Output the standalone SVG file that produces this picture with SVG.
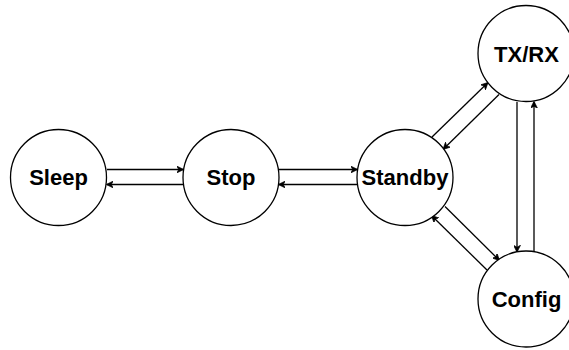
<svg xmlns="http://www.w3.org/2000/svg" width="569" height="350" viewBox="0 0 569 350">
<style>
.n{fill:#fff;stroke:#000;stroke-width:1.3}
.t{font-family:"Liberation Sans",Arial,sans-serif;font-weight:bold;font-size:22px;text-anchor:middle;fill:#000}
.e{stroke:#000;stroke-width:1.3;fill:none;marker-end:url(#a)}
</style>
<defs>
<marker id="a" viewBox="0 0 10 10" refX="9" refY="5" markerWidth="7" markerHeight="7" markerUnits="userSpaceOnUse" orient="auto">
<path d="M0,0 L10,5 L0,10 L3,5 z" fill="#000" stroke="#000" stroke-width="1"/>
</marker>
</defs>
<rect width="569" height="350" fill="#fff"/>
<g id="connectors">
<line class="e" x1="107" y1="169.5" x2="183" y2="169.5"/>
<line class="e" x1="183" y1="184.5" x2="107" y2="184.5"/>
<line class="e" x1="279" y1="169.5" x2="357" y2="169.5"/>
<line class="e" x1="357" y1="184.5" x2="279" y2="184.5"/>
<line class="e" x1="432" y1="137" x2="487.5" y2="83"/>
<line class="e" x1="499" y1="94.5" x2="443.5" y2="149"/>
<line class="e" x1="445" y1="206.5" x2="499" y2="260"/>
<line class="e" x1="487" y1="270" x2="432" y2="216"/>
<line class="e" x1="517" y1="102" x2="517" y2="251.5"/>
<line class="e" x1="534" y1="251.5" x2="534" y2="102"/>
</g>
<g id="sleep"><circle class="n" cx="58.5" cy="177.5" r="48"/><text class="t" x="58.5" y="185">Sleep</text></g>
<g id="stop"><circle class="n" cx="231" cy="177.5" r="48"/><text class="t" x="231" y="185">Stop</text></g>
<g id="standby"><circle class="n" cx="405" cy="177.5" r="48"/><text class="t" x="405" y="185">Standby</text></g>
<g id="txrx"><circle class="n" cx="526" cy="53.5" r="48"/><text class="t" x="526.5" y="61.5">TX/RX</text></g>
<g id="config"><circle class="n" cx="526" cy="299" r="48"/><text class="t" x="526.5" y="306.5">Config</text></g>
</svg>
